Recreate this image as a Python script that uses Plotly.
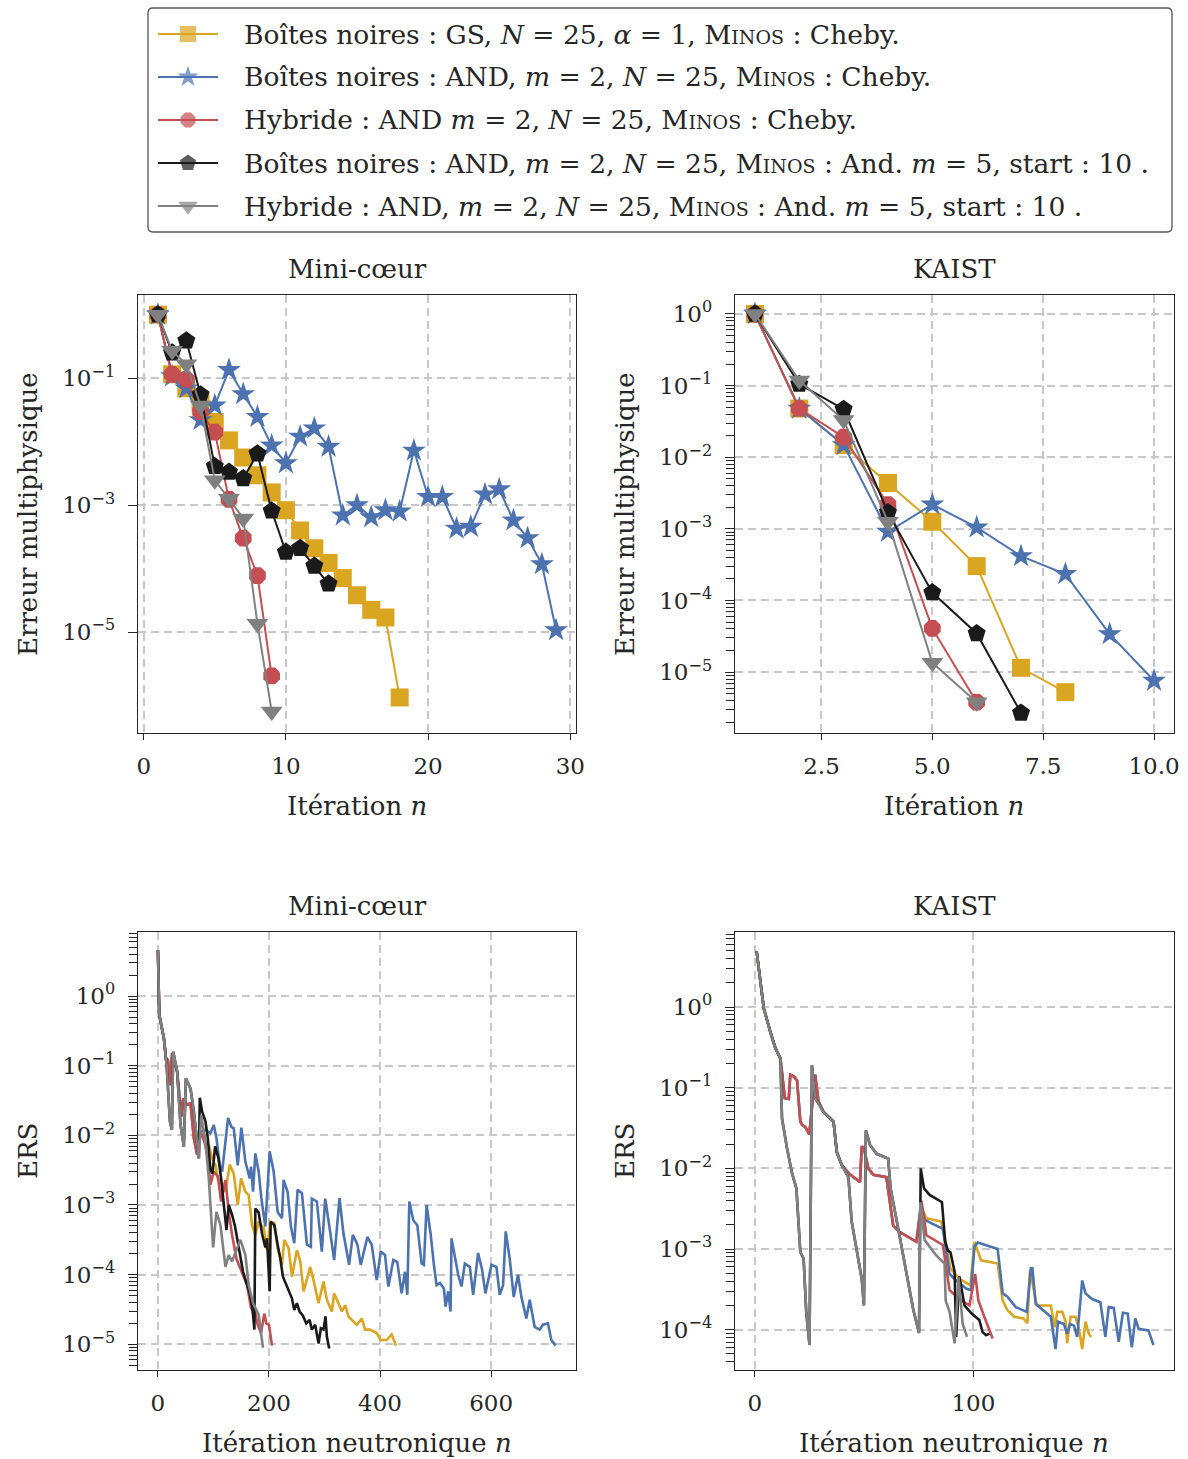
import plotly.graph_objects as go

W, H = 1188, 1459
FONT = "DejaVu Serif, serif"

COL_GS = "#DAA520"
COL_AND = "#4C72B0"
COL_HYB = "#C44E52"
COL_BBM = "#1A1A1A"
COL_HYM = "#808080"

MINOS = "M<span style='font-size:19px'>INOS</span>"
names = [
    "Boîtes noires : GS, <i>N</i> = 25, <i>α</i> = 1, " + MINOS + " : Cheby.",
    "Boîtes noires : AND, <i>m</i> = 2, <i>N</i> = 25, " + MINOS + " : Cheby.",
    "Hybride : AND <i>m</i> = 2, <i>N</i> = 25, " + MINOS + " : Cheby.",
    "Boîtes noires : AND, <i>m</i> = 2, <i>N</i> = 25, " + MINOS + " : And. <i>m</i> = 5, start : 10 .",
    "Hybride : AND, <i>m</i> = 2, <i>N</i> = 25, " + MINOS + " : And. <i>m</i> = 5, start : 10 .",
]
colors = [COL_GS, COL_AND, COL_HYB, COL_BBM, COL_HYM]
symbols = ["square", "star", "octagon", "pentagon", "triangle-down"]
msizes = [18, 18, 18, 19, 19]

# ---------------- Top-left : Mini-coeur, multiphysics error (log10) ----------------
tl_gs_n = list(range(1, 19))
tl_gs_log10 = [0, -0.94, -1.16, -1.40, -1.69, -1.98, -2.25, -2.53, -2.80, -3.08,
               -3.40, -3.68, -3.91, -4.15, -4.42, -4.65, -4.77, -6.03]
tl_and_n = list(range(1, 30))
tl_and_log10 = [0, -0.97, -1.16, -1.66, -1.43, -0.87, -1.25, -1.61, -2.06, -2.34,
                -1.92, -1.79, -2.08, -3.16, -3.00, -3.19, -3.08, -3.10, -2.14, -2.87,
                -2.87, -3.37, -3.34, -2.83, -2.75, -3.24, -3.52, -3.93, -4.97]
tl_hyb_n = list(range(1, 10))
tl_hyb_log10 = [0, -0.94, -1.02, -1.53, -1.85, -2.91, -3.52, -4.11, -5.69]
tl_bbm_n = list(range(1, 14))
tl_bbm_log10 = [0, -0.60, -0.41, -1.26, -2.39, -2.48, -2.58, -2.19, -3.09, -3.74,
                -3.68, -3.96, -4.24]
tl_hym_n = list(range(1, 10))
tl_hym_log10 = [0, -0.57, -0.78, -1.43, -2.61, -2.90, -3.21, -4.87, -6.25]

# ---------------- Top-right : KAIST, multiphysics error (log10) ----------------
tr_gs_n = list(range(1, 9))
tr_gs_log10 = [0, -1.32, -1.83, -2.36, -2.90, -3.52, -4.94, -5.28]
tr_and_n = list(range(1, 11))
tr_and_log10 = [0, -1.32, -1.83, -3.04, -2.66, -2.98, -3.38, -3.63, -4.47, -5.12]
tr_hyb_n = list(range(1, 7))
tr_hyb_log10 = [0, -1.32, -1.72, -2.66, -4.39, -5.42]
tr_bbm_n = list(range(1, 8))
tr_bbm_log10 = [0, -0.98, -1.33, -2.77, -3.89, -4.46, -5.57]
tr_hym_n = list(range(1, 7))
tr_hym_log10 = [0, -0.93, -1.48, -2.90, -4.87, -5.42]

# ---------------- Bottom-left : Mini-coeur, ERS vs neutron iteration ----------------
bl_hym_x = [0.0, 2.4, 10.8, 15.6, 21.6, 25.1, 27.5, 34.7, 40.7, 46.7, 50.3, 58.7, 64.7,
            73.7, 77.8, 85.6, 91.6, 99.4, 105.4, 112.6, 121.6, 127.5, 133.5, 148.5,
            157.5, 163.5, 171.3, 181.4, 189.2]
bl_hym_log10 = [0.66, -0.27, -0.61, -0.99, -1.80, -1.92, -0.80, -1.09, -1.85, -2.16,
                -1.18, -1.33, -1.66, -2.33, -1.71, -2.09, -2.62, -3.61, -3.10, -3.29,
                -3.89, -3.72, -3.81, -3.50, -3.72, -4.15, -4.41, -4.58, -5.05]

bl_hyb_x = [0.0, 2.4, 10.8, 14.4, 18.0, 21.6, 25.7, 34.7, 41.9, 45.5, 52.7, 58.7, 64.7,
            70.7, 76.6, 83.8, 89.8, 94.6, 100.6, 107.8, 113.8, 121.6, 127.5, 133.5,
            141.3, 148.5, 160.5, 167.7, 175.4, 179.6, 185.6, 191.6, 195.2, 200.0, 205.4]
bl_hyb_log10 = [0.66, -0.27, -0.61, -0.89, -0.92, -1.28, -0.82, -1.09, -1.73, -1.47,
                -1.56, -1.54, -2.04, -2.28, -1.95, -2.09, -2.33, -2.71, -2.52, -2.59,
                -2.95, -2.64, -3.10, -3.43, -3.77, -3.91, -4.15, -4.48, -4.56, -4.72,
                -4.84, -4.56, -4.70, -4.72, -5.02]

bl_gs_x = [0.0, 2.4, 10.8, 14.4, 18.0, 21.6, 25.7, 34.7, 41.9, 45.5, 52.7, 58.7, 64.7,
           70.7, 76.6, 83.8, 91.6, 97.6, 103.6, 107.8, 115.6, 121.6, 129.3, 136.5,
           143.7, 149.7, 157.5, 163.5, 169.5, 175.4, 181.4, 190.4, 196.4, 202.4,
           209.6, 215.6, 223.4, 227.5, 235.3, 241.3, 250.3, 256.3, 262.3, 274.3,
           280.2, 289.2, 298.2, 304.2, 313.2, 317.4, 325.1, 331.1, 337.1, 343.1,
           349.1, 358.1, 367.1, 373.1, 382.0, 394.0, 401.2, 412.0, 421.0, 428.7]
bl_gs_log10 = [0.66, -0.27, -0.61, -0.89, -0.92, -1.28, -0.82, -1.09, -1.73, -1.47,
               -1.56, -1.54, -2.04, -2.28, -1.95, -2.09, -2.14, -2.33, -2.43, -2.62,
               -2.69, -2.81, -2.42, -2.55, -3.00, -2.62, -2.81, -2.86, -3.29, -3.43,
               -3.24, -3.33, -3.65, -3.24, -3.26, -3.62, -3.86, -3.50, -3.62, -4.03,
               -3.65, -3.81, -4.24, -3.89, -4.08, -4.41, -4.10, -4.36, -4.53, -4.27,
               -4.41, -4.53, -4.44, -4.60, -4.65, -4.72, -4.63, -4.79, -4.79, -4.84,
               -4.94, -4.94, -4.86, -5.02]

bl_and_x = [0.0, 2.4, 10.8, 14.4, 18.0, 21.6, 25.7, 34.7, 41.9, 45.5, 52.7, 58.7, 64.7,
            70.7, 76.6, 85.6, 94.6, 100.6, 105.4, 111.4, 115.6, 126.3, 132.3, 136.5,
            143.7, 150.3, 157.5, 165.3, 167.7, 171.3, 175.4, 181.4, 186.2, 193.4,
            201.2, 208.4, 215.6, 223.4, 226.3, 233.5, 239.5, 245.5, 251.5, 259.3,
            268.3, 275.4, 277.2, 286.2, 295.2, 301.2, 308.4, 317.4, 327.0, 334.1,
            344.3, 350.9, 359.3, 365.3, 377.2, 385.0, 394.0, 401.2, 409.0, 415.0,
            423.9, 431.1, 438.9, 444.9, 449.1, 452.7, 459.9, 467.1, 474.9, 479.0,
            483.8, 491.0, 497.0, 501.8, 507.8, 515.0, 518.0, 522.8, 527.0, 528.7,
            534.7, 540.7, 546.7, 552.7, 561.7, 567.7, 576.6, 583.8, 589.8, 600.6,
            609.6, 615.6, 621.6, 626.3, 633.5, 640.7, 648.5, 654.5, 663.5, 669.5,
            678.4, 687.4, 693.4, 702.4, 708.4, 716.2]
bl_and_log10 = [0.66, -0.27, -0.61, -0.89, -0.92, -1.28, -0.82, -1.09, -1.73, -1.47,
                -1.56, -1.54, -2.04, -2.28, -1.95, -1.92, -1.97, -1.85, -2.04, -2.43,
                -2.52, -1.75, -1.88, -1.90, -2.43, -1.89, -2.38, -2.62, -2.45, -2.81,
                -2.26, -2.52, -2.90, -3.31, -2.23, -2.52, -3.10, -3.19, -2.64, -2.81,
                -3.31, -3.55, -2.78, -2.83, -3.57, -3.60, -2.91, -2.95, -3.67, -2.91,
                -3.29, -3.79, -2.90, -3.41, -3.86, -3.43, -3.57, -3.86, -3.46, -3.57,
                -4.08, -3.67, -3.72, -4.17, -3.79, -3.82, -4.27, -3.96, -4.29, -2.95,
                -3.22, -3.29, -3.84, -3.86, -3.00, -3.41, -3.86, -4.15, -4.12, -4.20,
                -4.46, -4.24, -4.53, -3.48, -3.74, -4.00, -4.17, -3.84, -3.89, -4.29,
                -3.69, -3.93, -4.27, -3.86, -3.89, -4.29, -4.15, -3.38, -3.77, -4.32,
                -4.00, -4.32, -4.63, -4.36, -4.75, -4.79, -4.72, -4.70, -4.94, -5.02]

bl_bbm_x = [0.0, 2.4, 10.8, 15.6, 21.6, 25.1, 27.5, 34.7, 40.7, 46.7, 50.3, 58.7, 64.7,
            73.7, 75.4, 79.6, 85.6, 89.8, 94.6, 98.2, 103.0, 109.0, 113.8, 118.6,
            123.4, 127.5, 133.5, 138.9, 143.7, 148.5, 153.3, 159.3, 165.3, 170.1,
            173.7, 175.4, 181.4, 187.4, 193.4, 196.4, 201.2, 203.0, 209.6, 215.6,
            220.4, 225.1, 231.1, 237.1, 241.3, 245.5, 250.3, 255.1, 261.1, 267.1,
            273.1, 277.2, 283.2, 289.2, 293.4, 298.2, 301.8, 304.2, 308.4]
bl_bbm_log10 = [0.66, -0.27, -0.61, -0.99, -1.80, -1.92, -0.80, -1.09, -1.85, -2.16,
                -1.18, -1.33, -1.66, -2.33, -1.46, -1.66, -1.80, -2.04, -2.50, -2.55,
                -2.16, -2.33, -2.62, -3.00, -3.36, -3.00, -3.14, -3.31, -3.53, -3.77,
                -3.96, -4.12, -4.27, -4.48, -4.79, -3.05, -3.11, -3.41, -3.61, -3.48,
                -4.24, -3.24, -3.29, -3.57, -3.77, -4.03, -4.14, -4.24, -4.34, -4.51,
                -4.41, -4.53, -4.59, -4.70, -4.65, -4.79, -4.72, -4.99, -4.77, -4.79,
                -4.60, -4.89, -5.06]

# ---------------- Bottom-right : KAIST, ERS vs neutron iteration ----------------
br_hym_x = [0.8, 4.1, 7.1, 9.4, 11.7, 12.4, 14.7, 17.0, 19.0, 20.8, 22.3, 23.5, 25.0,
            26.1, 27.6, 31.4, 36.0, 37.5, 39.8, 42.8, 44.3, 46.6, 48.9, 49.9, 50.8,
            52.7, 55.7, 61.0, 62.1, 65.6, 69.3, 72.4, 75.1, 75.7, 77.7, 83.0, 86.8,
            87.3, 89.1, 91.4, 93.2, 95.1, 97.1]
br_hym_log10 = [0.69, -0.02, -0.31, -0.51, -0.64, -1.38, -1.75, -2.06, -2.25, -3.04,
                -3.12, -3.78, -4.19, -0.72, -1.13, -1.30, -1.42, -1.80, -1.96, -2.11,
                -2.66, -3.04, -3.37, -3.70, -1.53, -1.71, -1.82, -1.88, -2.25, -2.75,
                -3.28, -3.74, -4.04, -2.42, -2.89, -3.08, -3.18, -3.64, -3.78, -4.17,
                -3.35, -3.93, -4.09]

br_hyb_x = [0.8, 4.1, 7.1, 9.4, 11.7, 13.7, 15.5, 16.2, 17.8, 19.3, 20.8, 21.6, 23.1,
            24.9, 27.6, 29.1, 31.4, 36.0, 37.5, 39.8, 42.8, 48.1, 48.9, 49.9, 51.9,
            54.2, 60.2, 63.3, 66.3, 73.9, 76.2, 78.5, 86.0, 89.1, 93.6, 98.2, 100.8,
            102.3, 105.0, 108.8]
br_hyb_log10 = [0.69, -0.02, -0.31, -0.51, -0.64, -1.13, -1.14, -0.84, -0.86, -0.91,
                -1.42, -1.46, -1.49, -1.58, -0.84, -1.17, -1.30, -1.42, -1.80, -1.96,
                -2.06, -2.17, -1.73, -1.75, -2.00, -2.08, -2.11, -2.71, -2.79, -2.91,
                -2.40, -2.83, -2.95, -3.51, -3.62, -3.70, -3.31, -3.64, -3.84, -4.11]

br_bbm_x = [0.8, 4.1, 7.1, 9.4, 11.7, 12.4, 14.7, 17.0, 19.0, 20.8, 22.3, 23.5, 25.0,
            26.1, 27.6, 31.4, 36.0, 37.5, 39.8, 42.8, 44.3, 46.6, 48.9, 49.9, 50.8,
            52.7, 55.7, 61.0, 62.1, 65.6, 69.3, 72.4, 75.1, 75.9, 77.4, 80.0, 85.6,
            87.1, 88.3, 89.5, 91.4, 92.1, 93.6, 95.9, 99.2, 102.7, 104.2, 105.8, 107.3]
br_bbm_log10 = [0.69, -0.02, -0.31, -0.51, -0.64, -1.38, -1.75, -2.06, -2.25, -3.04,
                -3.12, -3.78, -4.19, -0.72, -1.13, -1.30, -1.42, -1.80, -1.96, -2.11,
                -2.66, -3.04, -3.37, -3.70, -1.53, -1.71, -1.82, -1.88, -2.25, -2.75,
                -3.28, -3.74, -4.04, -2.00, -2.25, -2.33, -2.42, -2.91, -3.02, -3.04,
                -3.28, -4.09, -3.34, -3.70, -3.80, -3.88, -4.03, -4.07, -4.05]

br_and_x = [0.8, 4.1, 7.1, 9.4, 11.7, 13.7, 15.5, 16.2, 17.8, 19.3, 20.8, 21.6, 23.1,
            24.9, 27.6, 29.1, 31.4, 36.0, 37.5, 39.8, 42.8, 48.1, 48.9, 49.9, 51.9,
            54.2, 60.2, 63.3, 66.3, 73.9, 76.2, 77.7, 86.0, 87.6, 89.1, 92.1, 96.7,
            98.9, 100.5, 102.0, 111.1, 113.4, 115.6, 119.4, 124.4, 126.3, 127.0,
            128.5, 135.4, 137.6, 138.7, 141.4, 142.9, 144.2, 146.0, 147.5, 149.8,
            151.3, 154.3, 158.1, 160.4, 161.9, 164.2, 166.5, 168.4, 170.6, 172.5,
            174.1, 175.6, 180.1, 182.4]
br_and_log10 = [0.69, -0.02, -0.31, -0.51, -0.64, -1.13, -1.14, -0.84, -0.86, -0.91,
                -1.42, -1.46, -1.49, -1.58, -0.84, -1.17, -1.30, -1.42, -1.80, -1.96,
                -2.06, -2.17, -1.73, -1.75, -2.00, -2.08, -2.11, -2.71, -2.79, -2.91,
                -2.44, -2.64, -2.75, -3.02, -3.31, -3.39, -3.49, -3.51, -2.97, -2.92,
                -3.00, -3.55, -3.59, -3.72, -3.78, -3.24, -3.24, -3.68, -3.84, -4.24,
                -3.90, -3.93, -4.05, -3.93, -3.95, -4.09, -3.39, -3.55, -3.62, -3.66,
                -4.09, -3.72, -3.73, -4.15, -3.79, -3.80, -4.22, -3.86, -3.99, -4.01,
                -4.19]

br_gs_x = [0.8, 4.1, 7.1, 9.4, 11.7, 13.7, 15.5, 16.2, 17.8, 19.3, 20.8, 21.6, 23.1,
           24.9, 27.6, 29.1, 31.4, 36.0, 37.5, 39.8, 42.8, 48.1, 48.9, 49.9, 51.9,
           54.2, 60.2, 63.3, 66.3, 73.9, 76.5, 78.5, 85.3, 87.6, 89.5, 93.6, 98.6,
           100.5, 103.5, 111.1, 113.4, 115.6, 118.7, 122.9, 124.7, 125.9, 129.0,
           135.4, 137.2, 138.4, 140.7, 142.2, 142.9, 144.5, 146.7, 148.3, 149.8,
           151.3, 152.8, 153.9]
br_gs_log10 = [0.69, -0.02, -0.31, -0.51, -0.64, -1.13, -1.14, -0.84, -0.86, -0.91,
               -1.42, -1.46, -1.49, -1.58, -0.84, -1.17, -1.30, -1.42, -1.80, -1.96,
               -2.06, -2.17, -1.73, -1.75, -2.00, -2.08, -2.11, -2.71, -2.79, -2.91,
               -2.50, -2.62, -2.66, -2.95, -3.24, -3.37, -3.45, -2.91, -3.14, -3.18,
               -3.64, -3.76, -3.84, -3.86, -3.92, -3.26, -3.70, -3.70, -3.97, -3.78,
               -3.78, -3.90, -4.17, -3.84, -3.84, -3.99, -4.24, -3.90, -4.05, -4.09]


def pw(v):
    return [10 ** a for a in v]


fig = go.Figure()

top_left = [(tl_gs_n, tl_gs_log10), (tl_and_n, tl_and_log10), (tl_hyb_n, tl_hyb_log10),
            (tl_bbm_n, tl_bbm_log10), (tl_hym_n, tl_hym_log10)]
top_right = [(tr_gs_n, tr_gs_log10), (tr_and_n, tr_and_log10), (tr_hyb_n, tr_hyb_log10),
             (tr_bbm_n, tr_bbm_log10), (tr_hym_n, tr_hym_log10)]
bot_left = [(bl_gs_x, bl_gs_log10), (bl_and_x, bl_and_log10), (bl_hyb_x, bl_hyb_log10),
            (bl_bbm_x, bl_bbm_log10), (bl_hym_x, bl_hym_log10)]
bot_right = [(br_gs_x, br_gs_log10), (br_and_x, br_and_log10), (br_hyb_x, br_hyb_log10),
             (br_bbm_x, br_bbm_log10), (br_hym_x, br_hym_log10)]

for i in range(5):
    x, v = top_left[i]
    fig.add_trace(go.Scatter(x=x, y=pw(v), mode="lines+markers", name=names[i],
                             showlegend=False, line=dict(color=colors[i], width=2),
                             marker=dict(symbol=symbols[i], size=msizes[i], color=colors[i],
                                         line=dict(width=0)),
                             xaxis="x", yaxis="y"))
for i in range(5):
    x, v = top_right[i]
    fig.add_trace(go.Scatter(x=x, y=pw(v), mode="lines+markers", name=names[i],
                             showlegend=False, line=dict(color=colors[i], width=2),
                             marker=dict(symbol=symbols[i], size=msizes[i], color=colors[i],
                                         line=dict(width=0)),
                             xaxis="x2", yaxis="y2"))
for i in range(5):
    x, v = bot_left[i]
    fig.add_trace(go.Scatter(x=x, y=pw(v), mode="lines", name=names[i], showlegend=False,
                             line=dict(color=colors[i], width=2.6),
                             xaxis="x3", yaxis="y3"))
for i in range(5):
    x, v = bot_right[i]
    fig.add_trace(go.Scatter(x=x, y=pw(v), mode="lines", name=names[i], showlegend=False,
                             line=dict(color=colors[i], width=2.6),
                             xaxis="x4", yaxis="y4"))

# ---- legend drawn on an invisible pixel-coordinate overlay axis ----
LEG_Y = [34, 77, 120, 163, 206]
for i in range(5):
    fig.add_trace(go.Scatter(x=[158, 188, 218], y=[LEG_Y[i]] * 3, mode="lines+markers",
                             showlegend=False, hoverinfo="skip",
                             line=dict(color=colors[i], width=2),
                             marker=dict(symbol=symbols[i], size=[0, msizes[i] - 2, 0],
                                         color=colors[i], line=dict(width=0)),
                             xaxis="x5", yaxis="y5"))


def px_x(p):
    return p / W


def px_y(p):
    return 1 - p / H


LEFT = [px_x(138), px_x(576)]
RIGHT = [px_x(735), px_x(1174)]
TOP = [px_y(733), px_y(295)]
BOT = [px_y(1370), px_y(932)]

GRID = "#C8C8C8"
AX = "#262626"
TICKF = dict(family=FONT, size=23, color="#262626")


def sup(d):
    s = str(d).replace("-", "−")
    return f"10<sup>{s}</sup>"


def minor_vals(dmin, dmax):
    out = []
    for d in range(dmin, dmax + 1):
        for k in range(2, 10):
            out.append(k * 10 ** d)
    return out


def xax(domain, anchor, rng, tv, tt=None):
    return dict(domain=domain, anchor=anchor, range=rng, tickmode="array", tickvals=tv,
                ticktext=tt if tt else [str(t) for t in tv],
                showgrid=True, gridcolor=GRID, griddash="8px,5px", gridwidth=2,
                zeroline=False, showline=True, linecolor=AX, linewidth=1.3, mirror=True,
                ticks="outside", ticklen=6, tickwidth=1.2, tickcolor=AX,
                tickfont=TICKF, ticklabelstandoff=6, automargin=False)


def yax(domain, anchor, rng, decades, minor=None):
    d = dict(domain=domain, anchor=anchor, type="log", range=rng, tickmode="array",
             tickvals=[10 ** k for k in decades], ticktext=[sup(k) for k in decades],
             showgrid=True, gridcolor=GRID, griddash="8px,5px", gridwidth=2,
             zeroline=False, showline=True, linecolor=AX, linewidth=1.3, mirror=True,
             ticks="outside", ticklen=9, tickwidth=1.2, tickcolor=AX,
             tickfont=TICKF, ticklabelstandoff=8, automargin=False)
    if minor is not None:
        d["minor"] = dict(tickmode="array", tickvals=minor, ticks="outside", ticklen=8,
                          tickwidth=1.0, tickcolor=AX, showgrid=False)
    return d


fig.update_layout(
    width=W, height=H, autosize=False,
    margin=dict(l=0, r=0, t=0, b=0),
    paper_bgcolor="white", plot_bgcolor="rgba(0,0,0,0)",
    font=dict(family=FONT, size=25, color="#262626"),
    xaxis=xax(LEFT, "y", [-0.4, 30.4], [0, 10, 20, 30]),
    yaxis=yax(TOP, "x", [-6.59, 0.31], [-1, -3, -5]),
    xaxis2=xax(RIGHT, "y2", [0.55, 10.45], [2.5, 5.0, 7.5, 10.0], ["2.5", "5.0", "7.5", "10.0"]),
    yaxis2=yax(TOP, "x2", [-5.85, 0.265], [0, -1, -2, -3, -4, -5], minor_vals(-6, -1)),
    xaxis3=xax(LEFT, "y3", [-35.9, 752.9], [0, 200, 400, 600]),
    yaxis3=yax(BOT, "x3", [-5.37, 0.92], [0, -1, -2, -3, -4, -5], minor_vals(-6, 0)),
    xaxis4=xax(RIGHT, "y4", [-9.1, 191.8], [0, 100]),
    yaxis4=yax(BOT, "x4", [-4.50, 0.93], [0, -1, -2, -3, -4], minor_vals(-5, 0)),
    xaxis5=dict(domain=[0, 1], anchor="y5", range=[0, W], visible=False, fixedrange=True),
    yaxis5=dict(domain=[0, 1], anchor="x5", range=[H, 0], visible=False, fixedrange=True),
    showlegend=False,
)

# legend frame (rounded rectangle) in pixel coordinates of the overlay axis
x0, x1, y0, y1, r = 148, 1172, 8, 232, 5
path = (f"M {x0 + r},{y0} L {x1 - r},{y0} Q {x1},{y0} {x1},{y0 + r} "
        f"L {x1},{y1 - r} Q {x1},{y1} {x1 - r},{y1} L {x0 + r},{y1} "
        f"Q {x0},{y1} {x0},{y1 - r} L {x0},{y0 + r} Q {x0},{y0} {x0 + r},{y0} Z")
fig.add_shape(type="path", xref="x5", yref="y5", path=path,
              line=dict(color="#555555", width=1.3), fillcolor="rgba(0,0,0,0)")

TF = dict(family=FONT, size=26, color="#262626")
ann = [
    dict(text="Mini-cœur", x=px_x(357), y=px_y(269)),
    dict(text="KAIST", x=px_x(954), y=px_y(269)),
    dict(text="Mini-cœur", x=px_x(357), y=px_y(906)),
    dict(text="KAIST", x=px_x(954), y=px_y(906)),
    dict(text="Itération <i>n</i>", x=px_x(357), y=px_y(806)),
    dict(text="Itération <i>n</i>", x=px_x(954), y=px_y(806)),
    dict(text="Itération neutronique <i>n</i>", x=px_x(357), y=px_y(1443)),
    dict(text="Itération neutronique <i>n</i>", x=px_x(954), y=px_y(1443)),
    dict(text="Erreur multiphysique", x=px_x(28), y=px_y(514), textangle=-90),
    dict(text="Erreur multiphysique", x=px_x(625), y=px_y(514), textangle=-90),
    dict(text="ERS", x=px_x(28), y=px_y(1151), textangle=-90),
    dict(text="ERS", x=px_x(625), y=px_y(1151), textangle=-90),
]
for a in ann:
    a.update(xanchor="center", font=TF)
for i in range(5):
    ann.append(dict(text=names[i], x=px_x(242), y=px_y(LEG_Y[i]), xanchor="left",
                    font=dict(family=FONT, size=26.5, color="#262626")))
for a in ann:
    a.update(xref="paper", yref="paper", showarrow=False, yanchor="middle")
fig.update_layout(annotations=ann)

fig.write_html("out.html", config={"displayModeBar": False},
               post_script="document.body.style.margin='0px';")
